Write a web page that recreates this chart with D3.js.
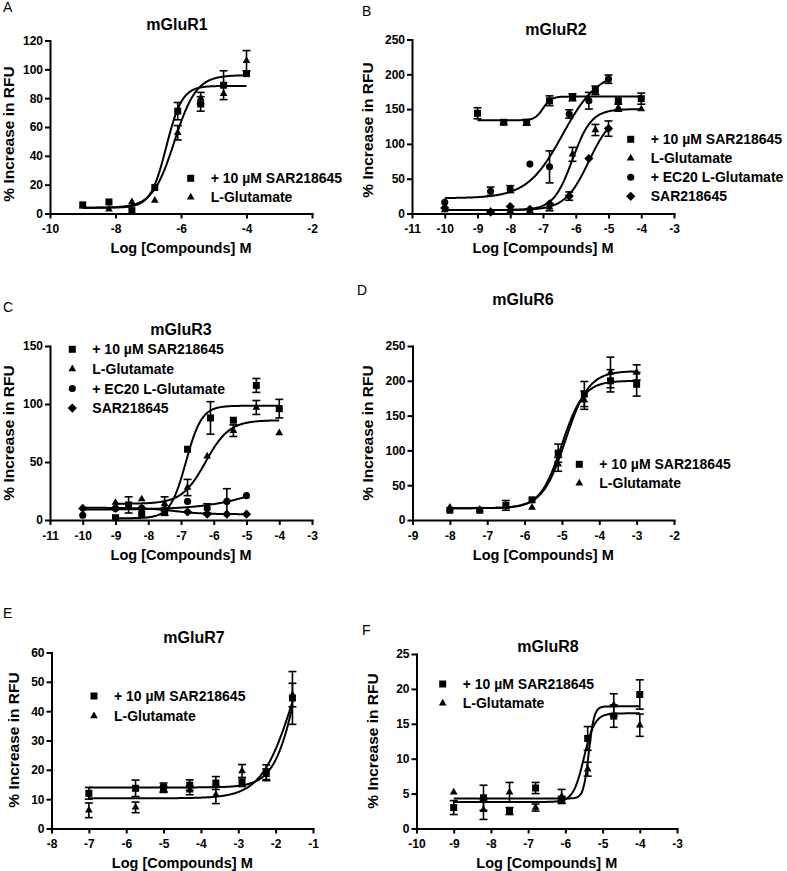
<!DOCTYPE html>
<html><head><meta charset="utf-8">
<script src="https://cdn.jsdelivr.net/npm/d3@7"></script>
<style>body{margin:0;background:#fff} svg{display:block}</style>
</head><body>
<svg id="c" width="787" height="871"></svg>
<script>
// ---------------- DATA ----------------
const legendTwo = ["+ 10 \u00b5M SAR218645", "L-Glutamate"];
const legendFour = ["+ 10 \u00b5M SAR218645", "L-Glutamate", "+ EC20 L-Glutamate", "SAR218645"];
// fit = [bottom, top, logEC50, hill]

// Panel A - mGluR1
const aXTicks = [-10, -8, -6, -4, -2];
const aYTicks = [0, 20, 40, 60, 80, 100, 120];
const aConc = [-9, -8.2, -7.5, -6.8, -6.1, -5.4, -4.7, -4];
const aSarY = [6, 8, 2, 18, 71, 76, 89, 97];
const aSarErr = [0, 0, 0, 0, 6, 5, 10, 0];
const aGluY = [5, 3, 8, 9, 56, 80, 83, 106];
const aGluErr = [0, 0, 0, 0, 5, 4, 0, 7];
const aSarFit = [4, 88.5, -6.45, 1.8];
const aGluFit = [4, 96, -6.2, 1.3];
const aRange = [-9, -4];

// Panel B - mGluR2
const bXTicks = [-11, -10, -9, -8, -7, -6, -5, -4, -3];
const bYTicks = [0, 50, 100, 150, 200, 250];
const bSarConc = [-9, -8.2, -7.5, -6.8, -6.1, -5.4, -4.7, -4];
const bSarY = [144, 131, 131, 162, 167, 177, 162, 165];
const bSarErr = [8, 3, 4, 7, 5, 6, 0, 8];
const bGluConc = [-10, -8.6, -8, -7.4, -6.8, -6.1, -5.4, -4.7, -4];
const bGluY = [5, 3, 4, 4, 9, 85, 120, 152, 150];
const bGluErr = [0, 0, 0, 0, 5, 10, 8, 5, 0];
const bEcConc = [-10, -8.6, -8, -7.4, -6.8, -6.2, -5.6, -5];
const bEcY = [16, 32, 35, 71, 67, 143, 162, 193];
const bEcErr = [0, 6, 5, 0, 23, 6, 12, 6];
const bAloneY = [8, 2, 10, 6, 14, 25, 79, 122];
const bAloneErr = [0, 0, 0, 0, 0, 6, 0, 11];
const bSarFit = [134, 168, -7.0, 3.5];
const bGluFit = [5, 150, -6.1, 1.5];
const bEcFit = [22, 205, -6.4, 0.8];
const bAloneFit = [5, 145, -5.6, 1.2];

// Panel C - mGluR3
const cXTicks = [-11, -10, -9, -8, -7, -6, -5, -4, -3];
const cYTicks = [0, 50, 100, 150];
const cSarConc = [-9, -8.6, -8.2, -7.5, -6.8, -6.1, -5.4, -4.7, -4];
const cSarY = [2, 13, 5, 7, 61, 88, 86, 116, 96];
const cSarErr = [0, 7, 0, 3, 0, 14, 0, 6, 8];
const cGluConc = [-9, -8.2, -7.5, -6.8, -6.2, -5.4, -4.7, -4];
const cGluY = [15, 18, 14, 28, 55, 77, 97, 75];
const cGluErr = [0, 0, 6, 7, 0, 5, 6, 0];
const cEcConc = [-10, -9, -8.2, -7.5, -6.8, -6.2, -5.6, -5];
const cEcY = [4, 10, 10, 9, 16, 10, 16, 21];
const cEcErr = [0, 0, 0, 0, 0, 4, 11, 0];
const cAloneY = [10, 10, 10, 9, 7, 5, 5, 5];
const cAloneErr = [0, 0, 0, 0, 0, 0, 0, 0];
const cSarFit = [1.5, 98.5, -6.85, 1.8];
const cGluFit = [14, 86, -6.25, 1.2];
const cEcFit = [9, 40, -4.5, 0.5];
const cAloneFit = [10.5, 5, -7.2, 1];

// Panel D - mGluR6
const dXTicks = [-9, -8, -7, -6, -5, -4, -3, -2];
const dYTicks = [0, 50, 100, 150, 200, 250];
const dConc = [-8, -7.2, -6.5, -5.8, -5.1, -4.4, -3.7, -3];
const dSarY = [14, 14, 21, 29, 96, 181, 200, 195];
const dSarErr = [0, 0, 7, 0, 13, 18, 16, 17];
const dGluY = [18, 15, 19, 18, 80, 172, 212, 212];
const dGluErr = [0, 0, 0, 0, 10, 13, 22, 11];
const dSarFit = [17, 200, -5.0, 1.5];
const dGluFit = [17, 214, -4.9, 1.4];

// Panel E - mGluR7
const eXTicks = [-8, -7, -6, -5, -4, -3, -2, -1];
const eYTicks = [0, 10, 20, 30, 40, 50, 60];
const eConc = [-7, -5.75, -5, -4.3, -3.6, -2.9, -2.25, -1.55];
const eSarY = [12, 13.7, 14, 14.8, 15.5, 15.8, 19.2, 44.5];
const eSarErr = [2, 2.8, 1.5, 1.8, 2.2, 1.5, 2.5, 9];
const eGluY = [6.2, 7.2, 13.3, 13, 11.5, 19.6, 18.3, 45.5];
const eGluErr = [2.5, 1.8, 1, 1.5, 3, 2.2, 2, 4];
const eSarFit = [14, 100, -1.3, 1.3];
const eGluFit = [10.3, 80, -1.5, 1.0];

// Panel F - mGluR8
const fXTicks = [-10, -9, -8, -7, -6, -5, -4, -3];
const fYTicks = [0, 5, 10, 15, 20, 25];
const fConc = [-9, -8.2, -7.5, -6.8, -6.1, -5.4, -4.7, -4];
const fSarY = [3, 4.4, 2.5, 5.8, 4.1, 12.9, 16.1, 19.2];
const fSarErr = [1, 1.8, 0.5, 0.8, 0.5, 1.7, 1.6, 2.1];
const fGluY = [5.2, 2.7, 5.2, 3, 4.6, 8.5, 17.7, 14.8];
const fGluErr = [0, 1.4, 1.4, 0.5, 1, 1, 1.6, 1.6];
const fSarFit = [3.8, 16.5, -5.5, 3];
const fGluFit = [4.3, 17.5, -5.37, 6];

// ---------------- DRAWING ----------------
const FONT = "'Liberation Sans', Arial, Helvetica, sans-serif";
const svg = d3.select("#c");

const SYM = {
  square: d3.symbol(d3.symbolSquare, 49)(),
  triangle: d3.symbol(d3.symbolTriangle, 26)(),
  circle: d3.symbol(d3.symbolCircle, 40)(),
  diamond: "M0,-4.6L4.6,0L0,4.6L-4.6,0Z"
};

function logistic(p, xv) {
  return p[0] + (p[1] - p[0]) / (1 + Math.pow(10, (p[2] - xv) * p[3]));
}

function ser(sym, conc, ys, errs, fit, range) {
  return {sym, conc, ys, errs, fit, range};
}

const panels = [
  {letter: "A", lx: 3, ly: 12, title: "mGluR1", tx: 177, ty: 29.5,
   L: 50, R: 312, T: 40.5, B: 213.5, xd: [-10, -2], yd: [0, 120], xt: aXTicks, yt: aYTicks,
   ylx: 14, yly: 134, leg: legendTwo, legX: 190.7, legY: 178.3, legDy: 19,
   series: [ser("square", aConc, aSarY, aSarErr, aSarFit, aRange),
            ser("triangle", aConc, aGluY, aGluErr, aGluFit, aRange)]},
  {letter: "B", lx: 362, ly: 16, title: "mGluR2", tx: 556, ty: 35,
   L: 412, R: 674, T: 39.5, B: 213.5, xd: [-11, -3], yd: [0, 250], xt: bXTicks, yt: bYTicks,
   ylx: 373, yly: 130, leg: legendFour, legX: 630.7, legY: 139.3, legDy: 19,
   series: [ser("square", bSarConc, bSarY, bSarErr, bSarFit, [-9, -4]),
            ser("triangle", bGluConc, bGluY, bGluErr, bGluFit, [-10, -4]),
            ser("circle", bEcConc, bEcY, bEcErr, bEcFit, [-10, -5]),
            ser("diamond", bEcConc, bAloneY, bAloneErr, bAloneFit, [-10, -5])]},
  {letter: "C", lx: 3, ly: 311.7, title: "mGluR3", tx: 181, ty: 335,
   L: 50, R: 312, T: 346, B: 520, xd: [-11, -3], yd: [0, 150], xt: cXTicks, yt: cYTicks,
   ylx: 14, yly: 433, leg: legendFour, legX: 72.3, legY: 349.3, legDy: 19.6,
   series: [ser("square", cSarConc, cSarY, cSarErr, cSarFit, [-9, -4]),
            ser("triangle", cGluConc, cGluY, cGluErr, cGluFit, [-9, -4]),
            ser("circle", cEcConc, cEcY, cEcErr, cEcFit, [-10, -5]),
            ser("diamond", cEcConc, cAloneY, cAloneErr, cAloneFit, [-10, -5])]},
  {letter: "D", lx: 357, ly: 295, title: "mGluR6", tx: 523, ty: 305,
   L: 412.5, R: 674, T: 346, B: 520, xd: [-9, -2], yd: [0, 250], xt: dXTicks, yt: dYTicks,
   ylx: 373, yly: 433, leg: legendTwo, legX: 579.3, legY: 464.3, legDy: 19,
   series: [ser("square", dConc, dSarY, dSarErr, dSarFit, [-8, -3]),
            ser("triangle", dConc, dGluY, dGluErr, dGluFit, [-8, -3])]},
  {letter: "E", lx: 3, ly: 618, title: "mGluR7", tx: 194, ty: 643,
   L: 51.5, R: 313, T: 652.5, B: 828.5, xd: [-8, -1], yd: [0, 60], xt: eXTicks, yt: eYTicks,
   ylx: 19, yly: 740, leg: legendTwo, legX: 94, legY: 696, legDy: 20,
   series: [ser("square", eConc, eSarY, eSarErr, eSarFit, [-7, -1.55]),
            ser("triangle", eConc, eGluY, eGluErr, eGluFit, [-7, -1.55])]},
  {letter: "F", lx: 362, ly: 635, title: "mGluR8", tx: 548, ty: 651.5,
   L: 416.5, R: 677, T: 654, B: 828.5, xd: [-10, -3], yd: [0, 25], xt: fXTicks, yt: fYTicks,
   ylx: 378, yly: 741, leg: legendTwo, legX: 442.7, legY: 684, legDy: 19.3,
   series: [ser("square", fConc, fSarY, fSarErr, fSarFit, [-9, -4]),
            ser("triangle", fConc, fGluY, fGluErr, fGluFit, [-9, -4])]}
];

function styleAxis(sel) {
  sel.selectAll("path, line").attr("stroke", "#000").attr("stroke-width", 2);
  sel.select("path.domain").attr("stroke-linecap", "square");
  sel.selectAll("text").attr("fill", "#000").attr("font-family", FONT)
     .attr("font-weight", "bold").attr("font-size", 12);
}

panels.forEach(p => {
  const g = svg.append("g");
  const x = d3.scaleLinear().domain(p.xd).range([p.L, p.R]);
  const y = d3.scaleLinear().domain(p.yd).range([p.B, p.T]);

  // panel letter
  g.append("text").attr("x", p.lx).attr("y", p.ly).text(p.letter)
    .attr("font-family", FONT).attr("font-size", 14).attr("fill", "#000");
  // title
  g.append("text").attr("x", p.tx).attr("y", p.ty).text(p.title)
    .attr("text-anchor", "middle").attr("font-family", FONT)
    .attr("font-weight", "bold").attr("font-size", 16).attr("fill", "#000");

  // axes
  const xa = g.append("g").attr("transform", `translate(0,${p.B})`)
    .call(d3.axisBottom(x).tickValues(p.xt).tickSize(5).tickSizeOuter(0)
      .tickPadding(6).tickFormat(d => String(d)));
  styleAxis(xa);
  const ya = g.append("g").attr("transform", `translate(${p.L},0)`)
    .call(d3.axisLeft(y).tickValues(p.yt).tickSize(5).tickSizeOuter(0)
      .tickPadding(2).tickFormat(d => String(d)));
  styleAxis(ya);

  // axis titles
  g.append("text").attr("x", (p.L + p.R) / 2).attr("y", p.B + 39.5)
    .text("Log [Compounds] M").attr("text-anchor", "middle")
    .attr("font-family", FONT).attr("font-weight", "bold").attr("font-size", 14.5).attr("fill", "#000");
  g.append("text").attr("transform", `translate(${p.ylx},${p.yly}) rotate(-90)`)
    .text("% Increase in RFU").attr("text-anchor", "middle")
    .attr("font-family", FONT).attr("font-weight", "bold").attr("font-size", 15.5).attr("fill", "#000");

  // fitted curves
  const line = d3.line().x(d => x(d[0])).y(d => y(d[1]));
  p.series.forEach(s => {
    const n = 240;
    const pts = d3.range(n + 1).map(i => {
      const xv = s.range[0] + (s.range[1] - s.range[0]) * i / n;
      return [xv, logistic(s.fit, xv)];
    });
    g.append("path").attr("d", line(pts)).attr("fill", "none")
      .attr("stroke", "#000").attr("stroke-width", 2);
  });

  // error bars and markers
  p.series.forEach(s => {
    s.conc.forEach((c, i) => {
      const e = s.errs[i];
      if (e > 0) {
        const cx = x(c), y1 = y(s.ys[i] + e), y2 = y(s.ys[i] - e);
        g.append("line").attr("x1", cx).attr("x2", cx).attr("y1", y1).attr("y2", y2)
          .attr("stroke", "#000").attr("stroke-width", 1.6);
        [y1, y2].forEach(yy => g.append("line").attr("x1", cx - 4).attr("x2", cx + 4)
          .attr("y1", yy).attr("y2", yy).attr("stroke", "#000").attr("stroke-width", 1.6));
      }
    });
  });
  p.series.forEach(s => {
    s.conc.forEach((c, i) => {
      g.append("path").attr("d", SYM[s.sym])
        .attr("transform", `translate(${x(c)},${y(s.ys[i])})`).attr("fill", "#000");
    });
  });

  // legend
  p.leg.forEach((t, i) => {
    const yy = p.legY + i * p.legDy;
    g.append("path").attr("d", SYM[p.series[i].sym])
      .attr("transform", `translate(${p.legX},${yy})`).attr("fill", "#000");
    g.append("text").attr("x", p.legX + 20).attr("y", yy).attr("dy", "0.36em").text(t)
      .attr("font-family", FONT).attr("font-weight", "bold").attr("font-size", 14).attr("fill", "#000");
  });
});
</script>
</body></html>
